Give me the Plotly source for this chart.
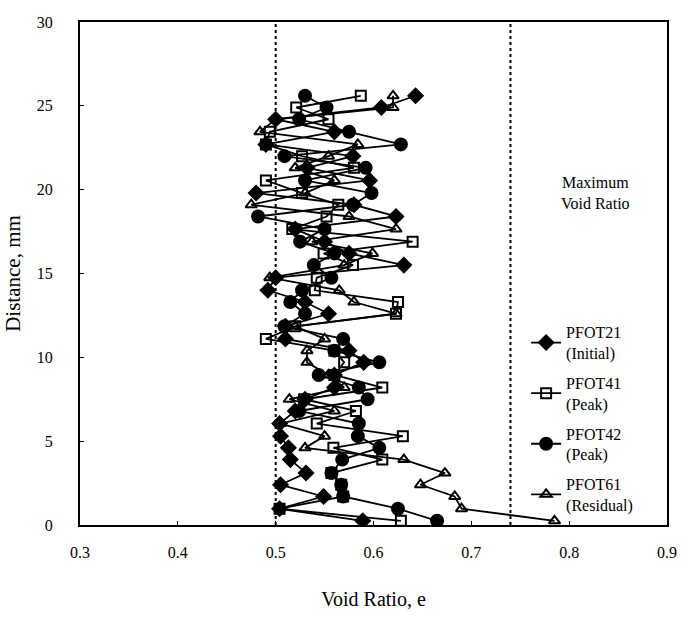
import plotly.graph_objects as go

# Distance along specimen (mm) at which void ratio was measured
distance = [0.25, 0.97, 1.7, 2.4, 3.1, 3.9, 4.6, 5.3, 6.05, 6.8, 7.5, 8.2,
            8.95, 9.7, 10.4, 11.1, 11.85, 12.6, 13.3, 14.0, 14.75, 15.5, 16.2, 16.9,
            17.65, 18.4, 19.1, 19.8, 20.55, 21.3, 22.0, 22.7, 23.45, 24.2, 24.9, 25.6]

pfot21 = [0.589, 0.504, 0.549, 0.505, 0.531, 0.515, 0.513, 0.505, 0.504, 0.52, 0.53, 0.56,
          0.56, 0.59, 0.575, 0.51, 0.51, 0.554, 0.53, 0.492, 0.50, 0.631, 0.575, 0.55,
          0.52, 0.623, 0.58, 0.48, 0.596, 0.532, 0.579, 0.49, 0.56, 0.50, 0.608, 0.643]

pfot41 = [0.628, 0.504, 0.569, 0.567, 0.557, 0.609, 0.559, 0.63, 0.542, 0.582, 0.529, 0.609,
          0.56, 0.57, 0.56, 0.49, 0.52, 0.623, 0.625, 0.54, 0.542, 0.579, 0.549, 0.64,
          0.517, 0.552, 0.564, 0.527, 0.49, 0.58, 0.527, 0.49, 0.494, 0.554, 0.521, 0.587]

pfot42 = [0.665, 0.625, 0.569, 0.567, 0.557, 0.568, 0.606, 0.584, 0.585, 0.524, 0.594, 0.585,
          0.544, 0.606, 0.56, 0.569, 0.509, 0.53, 0.515, 0.527, 0.557, 0.539, 0.56, 0.525,
          0.55, 0.482, 0.579, 0.598, 0.53, 0.592, 0.509, 0.628, 0.575, 0.524, 0.552, 0.53]

pfot61 = [0.785, 0.69, 0.683, 0.648, 0.673, 0.631, 0.53, 0.55, 0.505, 0.56, 0.514, 0.57,
          0.554, 0.532, 0.532, 0.55, 0.52, 0.623, 0.58, 0.565, 0.494, 0.57, 0.599, 0.537,
          0.623, 0.575, 0.475, 0.53, 0.56, 0.52, 0.554, 0.584, 0.484, 0.50, 0.62, 0.62]

series_names = ["PFOT21<br>(Initial)", "PFOT41<br>(Peak)", "PFOT42<br>(Peak)", "PFOT61<br>(Residual)"]
series_values = [pfot21, pfot41, pfot42, pfot61]
series_symbols = ["diamond", "square-open", "circle", "triangle-up-open"]
series_sizes = [11, 10, 12, 10]

max_void_ratio = 0.74
min_line = 0.5

FONT = "Liberation Serif, Times New Roman, serif"

fig = go.Figure()
for name, vals, sym, sz in zip(series_names, series_values, series_symbols, series_sizes):
    fig.add_trace(go.Scatter(
        x=vals, y=distance, mode="lines+markers", name=name, legendgroup=name,
        line=dict(color="black", width=1.8),
        marker=dict(symbol=sym, size=sz, color="black",
                    line=dict(color="black", width=2)),
    ))

for xv in [min_line, max_void_ratio]:
    fig.add_shape(type="line", x0=xv, x1=xv, y0=0, y1=30, xref="x", yref="y",
                  line=dict(color="black", width=2, dash="dot"), layer="below")

fig.add_annotation(x=0.827, y=19.8, xref="x", yref="y",
                   text="Maximum<br>Void Ratio", showarrow=False,
                   font=dict(family=FONT, size=16, color="black"), align="center")

fig.update_layout(
    width=689, height=619,
    margin=dict(l=80, r=13, t=22, b=86),
    paper_bgcolor="white", plot_bgcolor="white",
    font=dict(family=FONT, size=16, color="black"),
    showlegend=True,
    legend=dict(x=0.76, y=0.417, xanchor="left", yanchor="top",
                bgcolor="rgba(0,0,0,0)", font=dict(family=FONT, size=16, color="black"),
                itemwidth=30, tracegroupgap=6),
    xaxis=dict(range=[0.3, 0.9], dtick=0.1, tick0=0.3, tickformat=".1f",
               showgrid=False, zeroline=False, showline=True, linecolor="black",
               linewidth=2, mirror=True, ticks="inside", ticklen=4, tickcolor="black",
               ticklabelstandoff=12,
               title=dict(text="Void Ratio, e", font=dict(family=FONT, size=20), standoff=32)),
    yaxis=dict(range=[0, 30], dtick=5, showgrid=False, zeroline=False, showline=True,
               linecolor="black", linewidth=2, mirror=True, ticks="inside", ticklen=4,
               tickcolor="black", ticklabelstandoff=22,
               title=dict(text="Distance, mm", font=dict(family=FONT, size=21), standoff=10)),
)

fig.write_html("out.html", config={"displayModeBar": False},
               post_script="document.body.style.margin='0';")
